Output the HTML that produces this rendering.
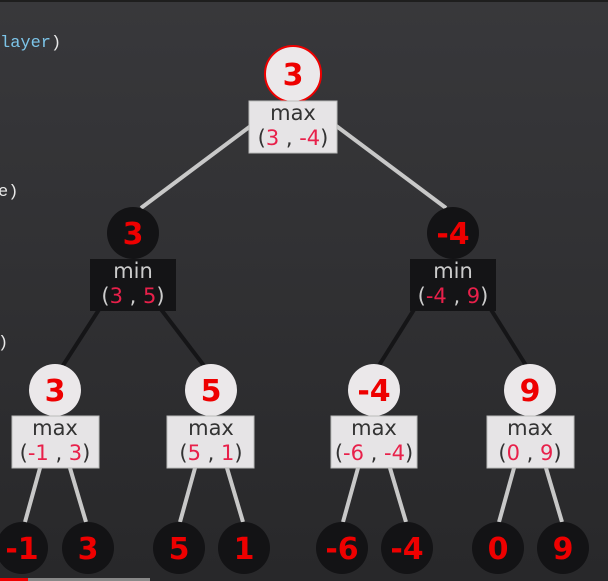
<!DOCTYPE html>
<html><head><style>
html,body{margin:0;padding:0;width:608px;height:581px;overflow:hidden;background:#323235}
svg{display:block}
</style></head><body>
<svg width="608" height="581" xmlns="http://www.w3.org/2000/svg" font-family="'DejaVu Sans','Liberation Sans',sans-serif">
<defs><linearGradient id="bg" x1="0" y1="0" x2="0" y2="1"><stop offset="0" stop-color="#38383b"/><stop offset="1" stop-color="#28282a"/></linearGradient></defs>
<rect width="608" height="581" fill="url(#bg)"/>
<rect width="608" height="2" fill="#1e1e1e"/>
<g font-family="'Liberation Mono',monospace" font-size="17" fill="#e8e8e8">
<text x="0" y="47"><tspan fill="#7cc4e8">layer</tspan>)</text>
<text x="-2" y="196">e)</text>
<text x="-2" y="347">)</text>
</g>
<g stroke="#c8c8c8" stroke-width="4">
<line x1="252" y1="125" x2="141" y2="208"/><line x1="335" y1="125" x2="446" y2="208"/>
<line x1="40" y1="468" x2="25" y2="522"/><line x1="70" y1="468" x2="86" y2="522"/>
<line x1="195" y1="468" x2="180" y2="522"/><line x1="227" y1="468" x2="243" y2="522"/>
<line x1="358" y1="468" x2="343" y2="522"/><line x1="390" y1="468" x2="406" y2="522"/>
<line x1="514" y1="468" x2="499" y2="522"/><line x1="546" y1="468" x2="562" y2="522"/>
</g>
<g stroke="#151517" stroke-width="4">
<line x1="100" y1="308" x2="62" y2="367"/><line x1="160" y1="308" x2="205" y2="367"/>
<line x1="415" y1="308" x2="378" y2="367"/><line x1="490" y1="308" x2="527" y2="367"/>
</g>
<g font-size="30" font-weight="bold" text-anchor="middle" fill="#ee0000">
<circle cx="293" cy="74" r="28" fill="#ebe8ea" stroke="#e00" stroke-width="2"/><text x="293" y="85">3</text>
<circle cx="133" cy="233" r="26" fill="#131315"/><text x="133" y="244">3</text>
<circle cx="453" cy="233" r="26" fill="#131315"/><text x="453" y="244">-4</text>
<circle cx="55" cy="390" r="26" fill="#ebe8ea"/><text x="55" y="401">3</text>
<circle cx="211" cy="390" r="26" fill="#ebe8ea"/><text x="211" y="401">5</text>
<circle cx="374" cy="390" r="26" fill="#ebe8ea"/><text x="374" y="401">-4</text>
<circle cx="530" cy="390" r="26" fill="#ebe8ea"/><text x="530" y="401">9</text>
<g fill="#131315"><circle cx="22" cy="548" r="26"/><circle cx="88" cy="548" r="26"/><circle cx="179" cy="548" r="26"/><circle cx="244" cy="548" r="26"/><circle cx="342" cy="548" r="26"/><circle cx="407" cy="548" r="26"/><circle cx="498" cy="548" r="26"/><circle cx="563" cy="548" r="26"/></g>
<text x="22" y="559">-1</text><text x="88" y="559">3</text><text x="179" y="559">5</text><text x="244" y="559">1</text>
<text x="342" y="559">-6</text><text x="407" y="559">-4</text><text x="498" y="559">0</text><text x="563" y="559">9</text>
</g>
<g font-size="21" text-anchor="middle">
<rect x="249" y="101" width="88" height="52" fill="#e6e4e6" stroke="#bbb"/>
<text x="293" y="120" fill="#333">max</text><text x="293" y="145" fill="#333">(<tspan fill="#e8204a">3</tspan> , <tspan fill="#e8204a">-4</tspan>)</text>
<rect x="90" y="259" width="86" height="52" fill="#141416"/>
<text x="133" y="278" fill="#ccc">min</text><text x="133" y="303" fill="#ccc">(<tspan fill="#e8204a">3</tspan> , <tspan fill="#e8204a">5</tspan>)</text>
<rect x="410" y="259" width="86" height="52" fill="#141416"/>
<text x="453" y="278" fill="#ccc">min</text><text x="453" y="303" fill="#ccc">(<tspan fill="#e8204a">-4</tspan> , <tspan fill="#e8204a">9</tspan>)</text>
<g fill="#e6e4e6" stroke="#bbb"><rect x="12" y="416" width="87" height="52"/><rect x="167" y="416" width="87" height="52"/><rect x="331" y="416" width="86" height="52"/><rect x="487" y="416" width="87" height="52"/></g>
<g fill="#333">
<text x="55" y="435">max</text><text x="55" y="460">(<tspan fill="#e8204a">-1</tspan> , <tspan fill="#e8204a">3</tspan>)</text>
<text x="211" y="435">max</text><text x="211" y="460">(<tspan fill="#e8204a">5</tspan> , <tspan fill="#e8204a">1</tspan>)</text>
<text x="374" y="435">max</text><text x="374" y="460">(<tspan fill="#e8204a">-6</tspan> , <tspan fill="#e8204a">-4</tspan>)</text>
<text x="530" y="435">max</text><text x="530" y="460">(<tspan fill="#e8204a">0</tspan> , <tspan fill="#e8204a">9</tspan>)</text>
</g>
</g>
<rect x="0" y="578" width="150" height="3" fill="#888"/>
<rect x="0" y="578" width="28" height="3" fill="#e00"/>
</svg>
</body></html>
